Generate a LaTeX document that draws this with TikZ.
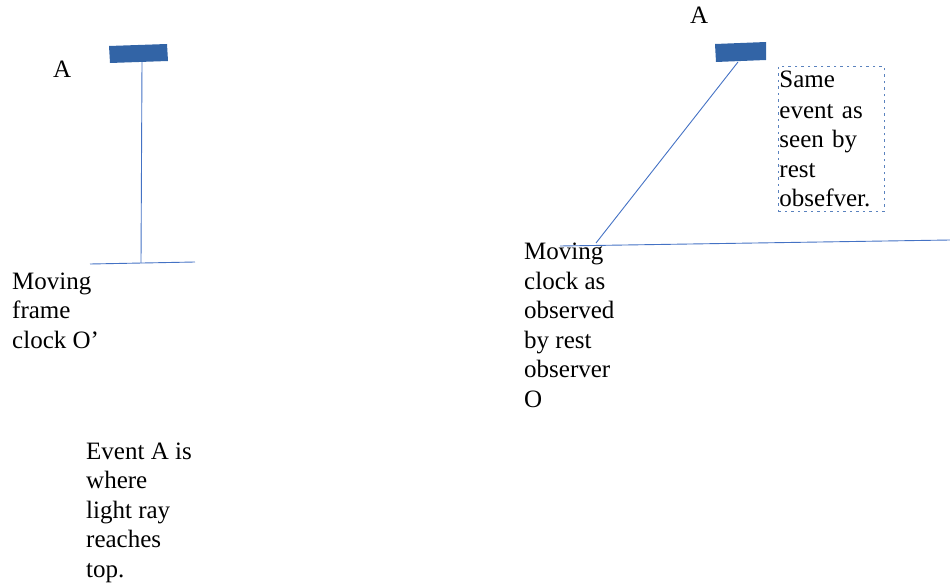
\documentclass[tikz,border=0pt]{standalone}
\usepackage{fontspec}
\setmainfont{Liberation Serif}
\definecolor{rayblue}{RGB}{68,114,196}
\definecolor{mirrorblue}{RGB}{50,100,166}
\definecolor{boxblue}{RGB}{90,130,190}
\tikzset{
  ray/.style={draw=rayblue, line width=0.9pt},
  mirror/.style={fill=mirrorblue, draw=none},
  label/.style={inner sep=0pt, align=left, anchor=north west,
    font=\fontsize{25}{29.5}\selectfont},
  note/.style={label, draw=boxblue, line width=0.9pt,
    dash pattern=on 2.5pt off 4pt, inner sep=1pt},
}
\begin{document}
\begin{tikzpicture}[x=1pt,y=-1pt]
\useasboundingbox (0,0) rectangle (950,588);

% clock in its own frame
\fill[mirror] (109,46) -- (167,44) -- (168,61) -- (110,63) -- cycle;
\coordinate (topL) at (142,62);
\coordinate (footL) at (141,263);
\coordinate (baseLa) at (90,264);
\coordinate (baseLb) at (195,262);
\draw[ray] (topL) -- (footL);
\draw[ray] (baseLa) -- (baseLb);
\node[label] (aL) at (53,61) {A};
\node[label] (clockL) at (12,272.5) {Moving\\frame\\clock O’};
\node[label] (eventL) at (86,442.5) {Event A is\\where\\light ray\\reaches\\top.};

% same clock seen by the rest observer
\fill[mirror] (715,44) -- (766,42) -- (766,60) -- (716,62) -- cycle;
\coordinate (topR) at (738,62);
\coordinate (footR) at (596,243);
\coordinate (baseRa) at (560,246);
\coordinate (baseRb) at (950,240);
\draw[ray] (topR) -- (footR);
\draw[ray] (baseRa) -- (baseRb);
\node[label] (aR) at (690,7) {A};
\node[label] (clockR) at (524,243) {Moving\\clock as\\observed\\by rest\\observer\\O};
\node[note, minimum width=106pt, minimum height=145pt, anchor=north west,
      align=left, text width=104pt] (noteR) at (778,66)
  {\vspace*{1pt}Same\\event as\\seen by\\rest\\obsefver.\par\vspace*{38pt}};
\end{tikzpicture}
\end{document}
